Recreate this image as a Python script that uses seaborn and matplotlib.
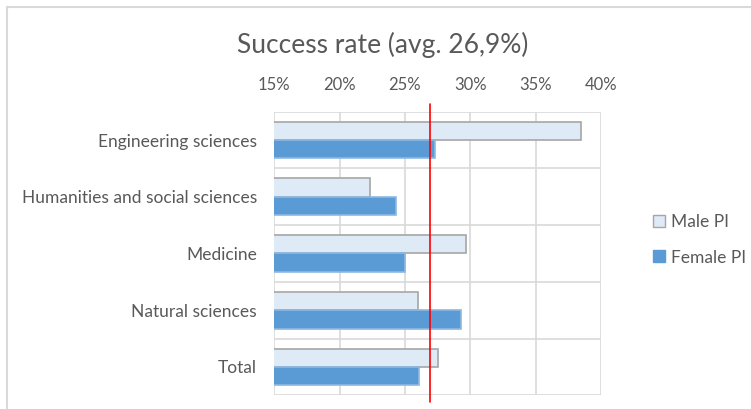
import matplotlib
matplotlib.use("Agg")
import matplotlib.pyplot as plt
import seaborn as sns
import pandas as pd
from matplotlib.lines import Line2D
from matplotlib.ticker import FuncFormatter

categories = ["Engineering sciences", "Humanities and social sciences", "Medicine",
              "Natural sciences", "Total"]
male_pi = [38.5, 22.3, 29.7, 26.0, 27.5]
female_pi = [27.3, 24.3, 25.0, 29.3, 26.1]
series_names = ["Male PI", "Female PI"]
average = 26.9
x_ticks = [15, 20, 25, 30, 35, 40]
title = "Success rate (avg. 26,9%)"

df = pd.DataFrame({
    "Category": categories * 2,
    "Rate": male_pi + female_pi,
    "Series": [series_names[0]] * len(categories) + [series_names[1]] * len(categories),
})

sns.set_theme(style="white")
plt.rcParams["font.family"] = ["Lato", "DejaVu Sans"]
TXT = "#595959"
GRID = "#D9D9D9"

W, H = 751, 409
fig = plt.figure(figsize=(W / 100, H / 100), dpi=100)
ax = fig.add_axes([274.3 / W, 13.7 / H, 326.5 / W, 283.6 / H])

sns.barplot(data=df, y="Category", x="Rate", hue="Series", orient="h",
            palette=["#DEEAF6", "#5B9BD5"], width=0.65, ax=ax,
            order=categories, hue_order=series_names, saturation=1, errorbar=None)

edges = ["#A6A6A6", "#8DB8E2"]
for cont, ec in zip(ax.containers, edges):
    for bar in cont:
        bar.set_edgecolor(ec)
        bar.set_linewidth(1.2)

ax.set_xlim(15, 40)
ax.set_ylim(len(categories) - 0.5, -0.5)
ax.set_xticks(x_ticks)
ax.xaxis.set_major_formatter(FuncFormatter(lambda v, p: f"{v:.0f}%"))
ax.xaxis.tick_top()
ax.tick_params(axis="x", length=0, pad=13.5, labelsize=12, labelcolor=TXT)
ax.tick_params(axis="y", length=0, pad=12.5, labelsize=12.5, labelcolor=TXT)
ax.set_xlabel("")
ax.set_ylabel("")

# gridlines
ax.set_axisbelow(True)
for xv in x_ticks:
    ax.axvline(xv, color=GRID, lw=1.2, zorder=0)
for yb in [i - 0.5 for i in range(len(categories) + 1)]:
    ax.axhline(yb, color=GRID, lw=1.2, zorder=0)
for s in ax.spines.values():
    s.set_visible(False)

# average line
ax.axvline(average, ymin=-0.024, ymax=1.027, color="#FF0000", lw=1.2, clip_on=False, zorder=5)

# legend
if ax.legend_:
    ax.legend_.remove()
leg_handles = [
    Line2D([], [], marker="s", linestyle="none", markersize=8,
           markerfacecolor="#DEEAF6", markeredgecolor="#A6A6A6", markeredgewidth=1),
    Line2D([], [], marker="s", linestyle="none", markersize=8,
           markerfacecolor="#5B9BD5", markeredgecolor="#5B9BD5", markeredgewidth=1),
]
fig.legend(leg_handles, series_names, loc="center left",
           bbox_to_anchor=(643 / W, 1 - 240 / H), frameon=False,
           fontsize=12.5, labelcolor=TXT, handlelength=0.8, handletextpad=0.3,
           labelspacing=1.1, borderpad=0)

fig.text(383 / W, 1 - 45 / H, title, ha="center", va="center", fontsize=19, color=TXT)

# chart border (top and left)
fig.add_artist(Line2D([7 / W, 1], [1 - 7 / H, 1 - 7 / H], color=GRID, lw=1.5))
fig.add_artist(Line2D([7 / W, 7 / W], [0, 1 - 7 / H], color=GRID, lw=1.5))

fig.savefig("out.png", dpi=100)
